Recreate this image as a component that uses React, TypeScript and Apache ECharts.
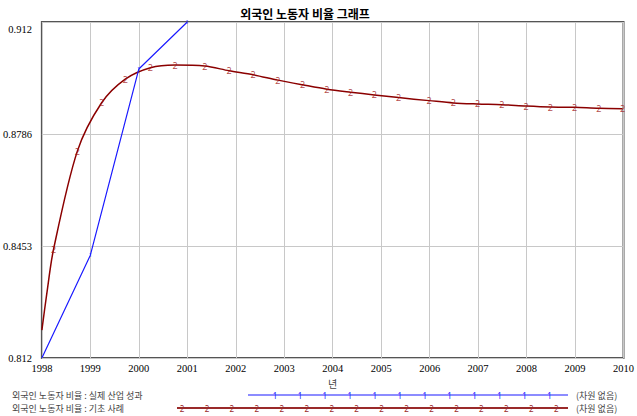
import React, { useEffect, useRef } from "react";
import * as echarts from "echarts";

const chartTitle = "외국인 노동자 비율 그래프";
const xAxisName = "년";
const yTicks = [0.812, 0.8453, 0.8786, 0.912];

// 실제 산업 성과 (series 1)
const actualYears = [1998, 1999, 2000, 2001];
const actualValues = [0.812, 0.8426, 0.898, 0.912];

// 기초 사례 (series 2)
const baseYears = [1998, 1998.1, 1998.24, 1998.73, 1999.23, 1999.72, 2000.24, 2000.75, 2001.36, 2001.86, 2002.36, 2002.87, 2003.38, 2003.88, 2004.37, 2004.86, 2005.36, 2005.99, 2006.49, 2006.99, 2007.49, 2007.99, 2008.49, 2008.99, 2009.49, 2009.98];
const baseValues = [0.8203, 0.831, 0.8443, 0.8735, 0.8879, 0.895, 0.8984, 0.8992, 0.8989, 0.8975, 0.8963, 0.8947, 0.8933, 0.892, 0.8911, 0.8903, 0.8895, 0.8886, 0.8879, 0.8876, 0.8874, 0.887, 0.8867, 0.8866, 0.8863, 0.8862];
const baseMarkerStart = 2; // markers drawn from this index on

const legendLabels = ["외국인 노동자 비율 : 실제 산업 성과", "외국인 노동자 비율 : 기초 사례"];
const legendUnit = "(차원 없음)";

const BLUE = "#1a1aff";
const RED = "#8b0000";
const SERIF = "Liberation Serif";

export default function App() {
  const ref = useRef<HTMLDivElement>(null);
  useEffect(() => {
    if (!ref.current) return;
    const chart = echarts.init(ref.current, null, { renderer: "svg" });
    const basePairs = baseYears.map((y, i) => [y, baseValues[i]]);
    const actualPairs = actualYears.map((y, i) => [y, actualValues[i]]);
    const legendGraphics: any[] = [];
    const rows = [
      { y: 395, x1: 248, x2: 568, color: BLUE, mark: "1", m0: 275, n: 12, w: 1.2 },
      { y: 408, x1: 177, x2: 568, color: "#9a2a2a", mark: "2", m0: 182, n: 16, w: 1.8 },
    ];
    rows.forEach((r, i) => {
      legendGraphics.push({
        type: "text", x: 12, y: r.y,
        style: { text: legendLabels[i], fill: "#444", fontSize: 9, fontFamily: "Noto Sans CJK KR", verticalAlign: "middle" },
      });
      legendGraphics.push({
        type: "line", shape: { x1: r.x1, y1: r.y, x2: r.x2, y2: r.y },
        style: { stroke: r.color, lineWidth: r.w },
      });
      for (let k = 0; k < r.n; k++) {
        legendGraphics.push({
          type: "text", x: r.m0 + k * 24.95, y: r.y,
          style: { text: r.mark, fill: r.color, fontSize: 8, fontFamily: "Noto Sans", align: "center", verticalAlign: "middle" },
        });
      }
      legendGraphics.push({
        type: "text", x: 576, y: r.y,
        style: { text: legendUnit, fill: "#444", fontSize: 9, fontFamily: "Noto Sans CJK KR", verticalAlign: "middle" },
      });
    });

    chart.setOption({
      animation: false,
      backgroundColor: "#fff",
      textStyle: { fontFamily: SERIF },
      title: {
        text: chartTitle, left: 300, top: 2, textAlign: "center",
        textStyle: { fontSize: 12, fontWeight: "bold", color: "#000", fontFamily: "Noto Sans CJK KR" },
      },
      grid: { left: 41, right: 9, top: 22, bottom: 58, show: true, borderColor: "#555", borderWidth: 2, backgroundColor: "transparent" },
      xAxis: {
        type: "value", min: 1998, max: 2010, interval: 1,
        name: xAxisName, nameLocation: "middle", nameGap: 19,
        nameTextStyle: { fontSize: 10, color: "#444", fontFamily: "Noto Sans CJK KR" },
        axisLine: { show: false }, axisTick: { show: false },
        axisLabel: { fontSize: 10.5, color: "#000", fontFamily: SERIF, margin: 5, formatter: (v: number) => String(v) },
        splitLine: { show: true, lineStyle: { color: "#c8c8c8", width: 1 } },
      },
      yAxis: {
        type: "value", min: yTicks[0], max: yTicks[yTicks.length - 1],
        axisLine: { show: false },
        axisTick: { show: false, customValues: yTicks },
        axisLabel: {
          customValues: yTicks, fontSize: 10.5, color: "#000", fontFamily: SERIF, margin: 10,
          formatter: (v: number) => (v === yTicks[yTicks.length - 1] ? "{top|" + String(v) + "}" : String(v)),
          rich: { top: { fontSize: 10.5, fontFamily: SERIF, color: "#000", padding: [14, 0, 0, 0] } },
        },
        splitLine: { show: true, lineStyle: { color: "#c8c8c8", width: 1 } },
      },
      series: [
        {
          type: "line", data: basePairs, smooth: 0.3, symbol: "none",
          lineStyle: { color: RED, width: 1.5 }, z: 3,
        },
        {
          type: "scatter", data: basePairs.slice(baseMarkerStart), symbolSize: 1,
          itemStyle: { color: "transparent" }, z: 4,
          label: { show: true, position: "inside", formatter: "2", color: "#a01818", fontSize: 9, fontFamily: "Noto Sans" },
        },
        {
          type: "line", data: actualPairs, symbol: "none",
          lineStyle: { color: BLUE, width: 1.2 }, z: 3,
        },
        {
          type: "scatter", data: actualPairs.slice(1), symbolSize: 1,
          itemStyle: { color: "transparent" }, z: 4,
          label: { show: true, position: "inside", formatter: "1", color: BLUE, fontSize: 6, fontFamily: "Noto Sans" },
        },
      ],
      graphic: legendGraphics,
    });
    return () => chart.dispose();
  }, []);
  return <div ref={ref} style={{ width: 637, height: 416, position: "absolute", left: 0, top: 0 }} />;
}
